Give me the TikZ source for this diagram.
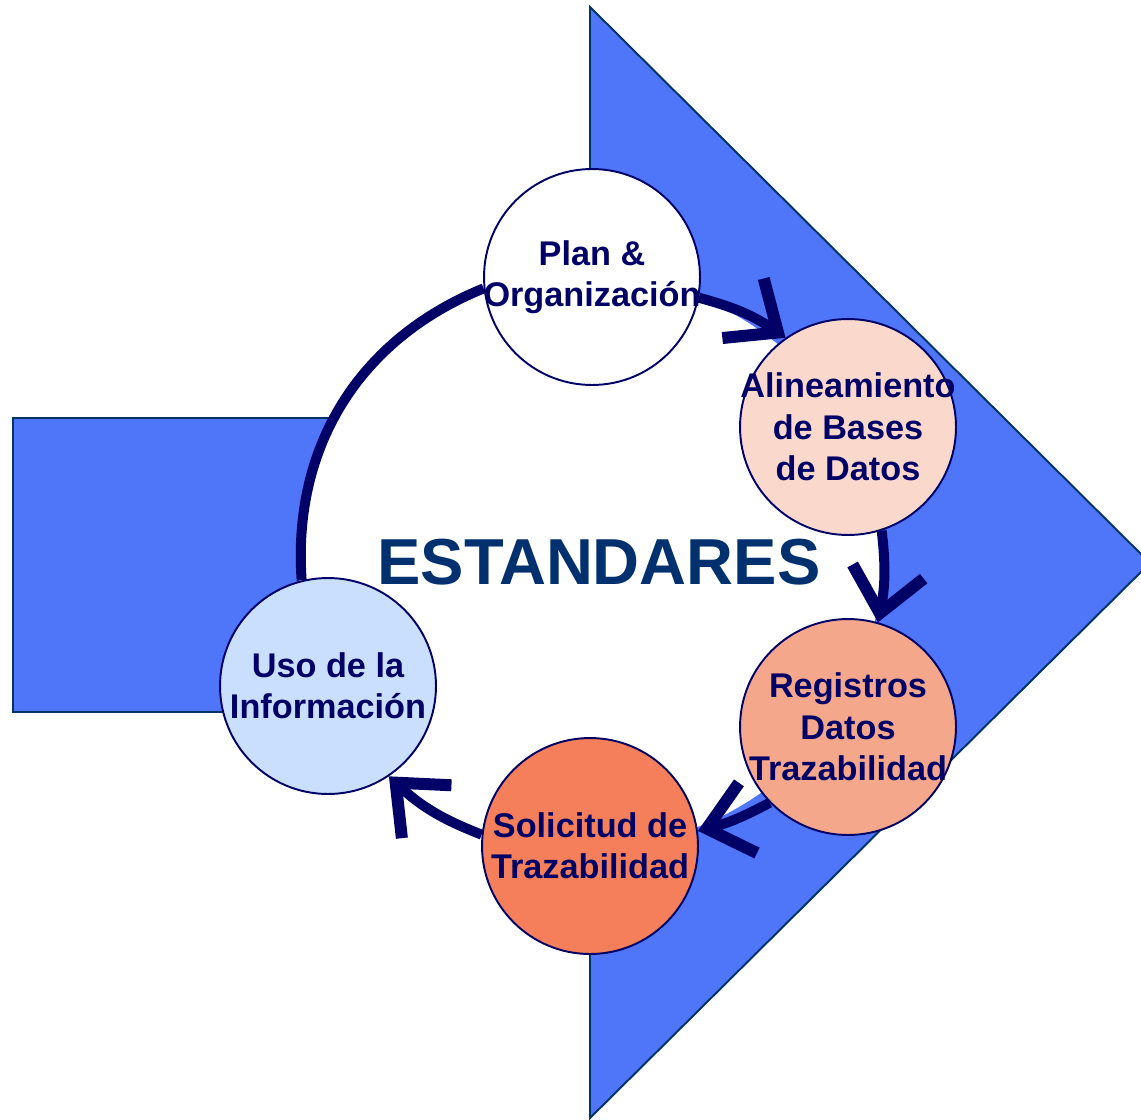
\documentclass[tikz,border=0pt]{standalone}
\usepackage{fontspec}
\setmainfont{Liberation Sans}
\usetikzlibrary{arrows.meta}
\usetikzlibrary{backgrounds}
\definecolor{mnavy}{RGB}{0,0,102}
\definecolor{mtitle}{RGB}{0,48,110}
\definecolor{mblue}{RGB}{79,117,249}
\definecolor{medge}{RGB}{0,51,102}
\definecolor{mpeach}{RGB}{250,217,204}
\definecolor{msalmon}{RGB}{245,167,140}
\definecolor{mcoral}{RGB}{244,127,90}
\definecolor{msky}{RGB}{201,223,253}
\newcommand{\stageline}[1]{\makebox[0pt]{#1}}
\tikzset{stage/.style = {draw=mnavy, line width=1.1pt, circle, inner sep=0, minimum size=4.32cm, align=center, text=mnavy, font=\fontsize{19.5}{23.5}\selectfont\bfseries}}
\tikzset{ringline/.style = {draw=mnavy, line width=0.2cm}}
\tikzset{ringarrow/.style = {ringline, -{Straight Barb[sharp, length=0.85cm, width=1.45cm, line width=0pt 1.2]}}}

\begin{document}
\begin{tikzpicture}[x=0.02cm, y=-0.02cm]
      \useasboundingbox (0,0) rectangle (1141,1119);

      \node [stage, fill=white] (plan) at (592,277) {\stageline{Plan \&}\\\stageline{Organización}};
      \node [stage, fill=mpeach] (alin) at (848,427) {\stageline{Alineamiento}\\\stageline{de Bases}\\\stageline{de Datos}};
      \node [stage, fill=msalmon] (reg) at (848,727) {\stageline{Registros}\\\stageline{Datos}\\\stageline{Trazabilidad}};
      \node [stage, fill=mcoral] (sol) at (590,846) {\stageline{Solicitud de}\\\stageline{Trazabilidad}};
      \node [stage, fill=msky] (uso) at (328,686) {\stageline{Uso de la}\\\stageline{Información}};

      \node [text=mtitle, font=\fontsize{37}{40}\selectfont\bfseries] (title) at (599,562) {ESTANDARES};

      \begin{scope}[on background layer]
        \draw [fill=mblue, draw=medge, line width=1.1pt] (13,418) -- (590,418) -- (590,7) -- (1150,563) -- (590,1118) -- (590,712) -- (13,712) -- cycle;
        \fill [white] (590,562) ellipse [x radius=291, y radius=285];

        \draw [ringarrow] (plan.-11) to [bend left=10] (alin.125);
        \draw [ringarrow] (alin.-72) to [bend left=9] (reg.74);
        \draw [ringarrow] (reg.-136) to [bend left=7] (sol.8);
        \draw [ringarrow] (sol.174) to [bend left=11] (uso.-56);
        \draw [ringline] (uso.104) to [bend left=36] (plan.186);
      \end{scope}
    \end{tikzpicture}
\end{document}
